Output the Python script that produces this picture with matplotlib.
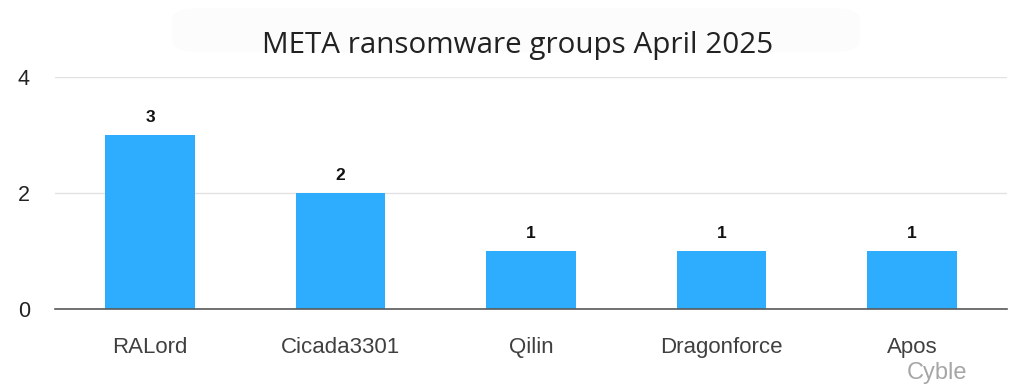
import matplotlib
matplotlib.use("Agg")
import matplotlib.pyplot as plt
from matplotlib.patches import FancyBboxPatch

groups = ["RALord", "Cicada3301", "Qilin", "Dragonforce", "Apos"]
counts = [3, 2, 1, 1, 1]
yticks = [0, 2, 4]
title = "META ransomware groups April 2025"

fig = plt.figure(figsize=(10.24, 3.84), dpi=100)
fig.patch.set_facecolor("white")

# very faint rounded backdrop behind title
bg = FancyBboxPatch((172/1024, 1-52/384), (860-172)/1024, 44/384,
                    boxstyle="round,pad=0,rounding_size=0.03",
                    transform=fig.transFigure, facecolor="#fcfcfc",
                    edgecolor="none", zorder=0)
fig.patches.append(bg)

ax = fig.add_axes([55/1024, 1-309/384, (1007-55)/1024, (309-77)/384])
ax.set_facecolor("none")

x = list(range(len(groups)))
bars = ax.bar(x, counts, width=0.47, color="#2EADFF", zorder=3)
for b, v in zip(bars, counts):
    ax.text(b.get_x() + b.get_width()/2, v + 0.18, str(v), ha="center", va="bottom",
            fontsize=12.5, fontweight="bold", family="Liberation Sans", color="#111111")

ax.set_xlim(-0.5, len(groups) - 0.5)
ax.set_ylim(0, 4)
ax.set_yticks(yticks)
ax.set_yticklabels([str(t) for t in yticks], family="Liberation Sans", fontsize=15.5, color="#222222")
ax.set_xticks(x)
ax.set_xticklabels(groups, family="Liberation Sans", fontsize=16, color="#404040")
ax.tick_params(axis="both", length=0)
ax.tick_params(axis="y", pad=18)
ax.tick_params(axis="x", pad=20)
ax.grid(axis="y", color="#e2e2e2", linewidth=1, zorder=0)
for s in ["top", "right", "left"]:
    ax.spines[s].set_visible(False)
ax.spines["bottom"].set_color("#595959")
ax.spines["bottom"].set_linewidth(1.2)
ax.spines["bottom"].set_zorder(4)

fig.text(518/1024, 1-46/384, title, ha="center", va="center", fontsize=21.3,
         family="Open Sans", color="#222222")
fig.text(937/1024, 1-373/384, "Cyble", ha="center", va="center", fontsize=17,
         family="Liberation Sans", color="#a6a6a6")

fig.savefig("out.png", dpi=100)
